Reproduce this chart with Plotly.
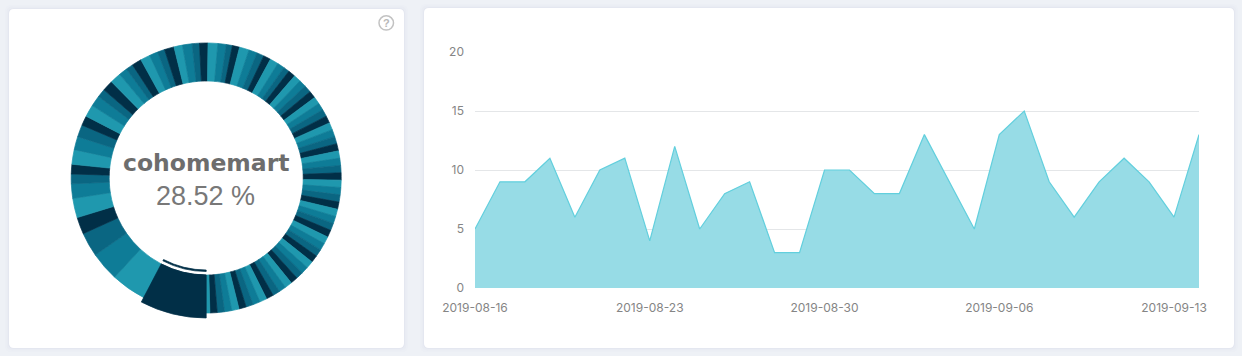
import plotly.graph_objects as go

W, H = 1242, 356

# Donut: slice sizes clockwise starting at the bottom, colours cycle over four shades
slice_sizes = [26.5, 14.5, 12, 10, 7, 8, 6, 4, 4, 6, 5.5, 5, 4, 5, 4.5, 3.5, 4.5, 4.5, 3.5, 3,
               4, 4, 3.5, 3, 4, 3.5, 4, 3, 3.5, 4, 3.5, 2.5, 3, 4, 3.5, 3, 3, 3.5, 3, 2.5,
               3, 3, 3, 3, 3, 3, 3, 3, 3, 3, 3, 3, 3, 3, 3, 3, 3, 3, 3, 3,
               3, 3, 3, 3, 3, 3, 3, 3, 3, 3, 3, 3, 3, 3, 3, 3, 3, 3, 3, 3,
               3, 3, 3, 3, 3, 1.5]
shades = ["#012f47", "#1f98ae", "#0e7c97", "#0a6682"]
donut_title = "cohomemart"
donut_value = "28.52 %"

# Area chart
dates = ["2019-08-16", "2019-08-17", "2019-08-18", "2019-08-19", "2019-08-20", "2019-08-21",
         "2019-08-22", "2019-08-23", "2019-08-24", "2019-08-25", "2019-08-26", "2019-08-27",
         "2019-08-28", "2019-08-29", "2019-08-30", "2019-08-31", "2019-09-01", "2019-09-02",
         "2019-09-03", "2019-09-04", "2019-09-05", "2019-09-06", "2019-09-07", "2019-09-08",
         "2019-09-09", "2019-09-10", "2019-09-11", "2019-09-12", "2019-09-13", "2019-09-14"]
counts = [5, 9, 9, 11, 6, 10, 11, 4, 12, 5, 8, 9, 3, 3, 10, 10, 8, 8, 13, 9, 5, 13, 15, 9, 6, 9, 11, 9, 6, 13]
date_ticks = ["2019-08-16", "2019-08-23", "2019-08-30", "2019-09-06", "2019-09-13"]
count_ticks = [0, 5, 10, 15, 20]


def fx(px):
    return px / W


def fy(py):
    return 1 - py / H


def round_rect(x0, y0, x1, y1, r):
    p = lambda x, y: f"{fx(x):.5f},{fy(y):.5f}"
    return (f"M{p(x0 + r, y0)} L{p(x1 - r, y0)} Q{p(x1, y0)} {p(x1, y0 + r)} "
            f"L{p(x1, y1 - r)} Q{p(x1, y1)} {p(x1 - r, y1)} L{p(x0 + r, y1)} "
            f"Q{p(x0, y1)} {p(x0, y1 - r)} L{p(x0, y0 + r)} Q{p(x0, y0)} {p(x0 + r, y0)} Z")


def ring(outer, inner, colors):
    cx, cy = 206.2, 178
    return go.Pie(
        values=slice_sizes, sort=False, direction="clockwise", rotation=180,
        hole=inner / outer, textinfo="none", hoverinfo="skip", showlegend=False,
        marker=dict(colors=colors, line=dict(width=0.7, color=colors)),
        domain=dict(x=[fx(cx - outer), fx(cx + outer)], y=[fy(cy + outer), fy(cy - outer)]),
    )


base_colors = [shades[i % 4] for i in range(len(slice_sizes))]
only_first = [shades[0]] + ["rgba(0,0,0,0)"] * (len(slice_sizes) - 1)

fig = go.Figure()
fig.add_trace(ring(135, 97, base_colors))
fig.add_trace(ring(140, 97, only_first))
fig.add_trace(ring(93.5, 92, only_first))

fig.add_trace(go.Scatter(
    x=dates, y=counts, mode="lines", fill="tozeroy",
    line=dict(color="#62cfdd", width=1.2),
    fillcolor="#97dce6", hoverinfo="skip", showlegend=False,
))

shapes = []
for box in [(9, 9, 404, 348), (424, 8, 1234, 348)]:
    x0, y0, x1, y1 = box
    for grow, alpha in [(4, 0.012), (2.5, 0.02), (1, 0.03)]:
        shapes.append(dict(type="path", xref="paper", yref="paper", layer="below", line_width=0,
                           fillcolor=f"rgba(90,110,150,{alpha})",
                           path=round_rect(x0 - grow, y0 - grow, x1 + grow, y1 + grow, 6)))
    shapes.append(dict(type="path", xref="paper", yref="paper", layer="below", line_width=0,
                       fillcolor="#ffffff", path=round_rect(x0, y0, x1, y1, 5)))
shapes.append(dict(type="circle", xref="paper", yref="paper", layer="above",
                   x0=fx(379), x1=fx(393.5), y0=fy(30), y1=fy(15.8),
                   line=dict(color="#c2c2c2", width=1.5), fillcolor="rgba(0,0,0,0)"))


def note(x, y, text, family, size, color):
    return dict(x=fx(x), y=fy(y), xref="paper", yref="paper", text=text, showarrow=False,
                xanchor="center", yanchor="middle", font=dict(family=family, size=size, color=color))


annotations = [
    note(206.5, 163, f"<b>{donut_title}</b>", "DejaVu Sans", 23.5, "#6d6d6d"),
    note(206, 196, donut_value, "Liberation Sans", 27, "#787878"),
    note(386.2, 23, "<b>?</b>", "Liberation Sans", 11, "#b8b8b8"),
]

fig.update_layout(
    width=W, height=H, margin=dict(l=0, r=0, t=0, b=0, autoexpand=False),
    paper_bgcolor="#eef1f6", plot_bgcolor="rgba(0,0,0,0)",
    shapes=shapes, annotations=annotations,
    font=dict(family="Inter", size=12, color="#858585"),
    xaxis=dict(domain=[fx(475), fx(1199)], range=[dates[0], dates[-1]], type="date",
               tickvals=date_ticks, tickformat="%Y-%m-%d", showgrid=False, zeroline=False,
               showline=False, ticks="", tickangle=0, automargin=False, ticklabelstandoff=11),
    yaxis=dict(domain=[fy(288), fy(52)], range=[0, 20], tickvals=count_ticks, showgrid=True,
               gridcolor="#e4e6e8", gridwidth=1, zeroline=False, showline=False, ticks="",
               ticklen=0, automargin=False, layer="above traces", ticklabelstandoff=10),
)

fig.write_html("out.html", config={"displayModeBar": False},
               post_script="document.body.style.margin='0';document.body.style.overflow='hidden';")
